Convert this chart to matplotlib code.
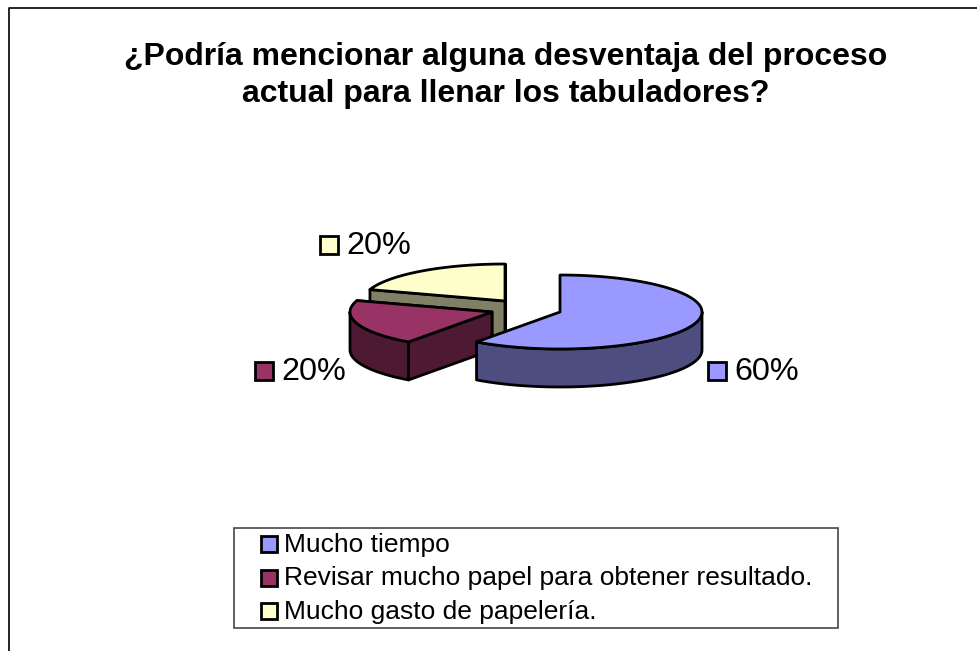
import numpy as np
import matplotlib
matplotlib.use("Agg")
import matplotlib.pyplot as plt
from matplotlib.patches import Polygon, Rectangle

# ---- data ----
categories = ["Mucho tiempo", "Revisar mucho papel para obtener resultado.", "Mucho gasto de papelería."]
values = [60, 20, 20]
pct_labels = ["60%", "20%", "20%"]
title_lines = ["¿Podría mencionar alguna desventaja del proceso", "actual para llenar los tabuladores?"]

# ---- style ----
top_colors = ["#9999FF", "#993366", "#FFFFCC"]
side_colors = ["#4D4D80", "#4D1933", "#808066"]
apexes = [(560, 312), (492, 312), (505, 301)]
RX, RY, DEPTH = 142, 37, 38
label_pos = [(707.5, 371), (254.5, 371), (320, 245)]
plt.rcParams["font.family"] = ["Liberation Sans", "DejaVu Sans"]

W, H = 977, 651
fig = plt.figure(figsize=(W / 100, H / 100), dpi=100)
ax = fig.add_axes([0, 0, 1, 1])
ax.set_xlim(0, W)
ax.set_ylim(H, 0)
ax.axis("off")

LW = 2.0
def pt(apex, a):
    return np.array([apex[0] + RX * np.sin(a), apex[1] - RY * np.cos(a)])

def arc(apex, a0, a1, n=80):
    t = np.linspace(a0, a1, n)
    return np.column_stack([apex[0] + RX * np.sin(t), apex[1] - RY * np.cos(t)])

fracs = np.array(values) / sum(values)
edges = np.concatenate([[0], np.cumsum(fracs)]) * 2 * np.pi

def draw_wedge(i, z):
    apex, a0, a1 = apexes[i], edges[i], edges[i + 1]
    down = np.array([0, DEPTH])
    ap = np.array(apex, float)
    kw = dict(facecolor=side_colors[i], edgecolor="black", lw=LW, joinstyle="round", zorder=z)
    # radial cut faces seen from the front
    for a in (a0, a1):
        p = pt(apex, a)
        if np.sin(a) < 0 and np.cos(a) > 0:
            ax.add_patch(Polygon([ap, p, p + down, ap + down], **kw))
    if np.pi < a0 < 1.5 * np.pi:
        p = pt(apex, a0)
        ax.add_patch(Polygon([ap, p, p + down, ap + down], **kw))
    # outer rim, front half only
    f0, f1 = max(a0, np.pi / 2), min(a1, 3 * np.pi / 2)
    if f1 > f0:
        rim = arc(apex, f0, f1)
        ax.add_patch(Polygon(np.vstack([rim, (rim + down)[::-1]]), **kw))
    top = np.vstack([ap, arc(apex, a0, a1)])
    ax.add_patch(Polygon(top, facecolor=top_colors[i], edgecolor="black", lw=LW, joinstyle="round", zorder=z + 0.5))

draw_wedge(2, 2)
draw_wedge(1, 3)
draw_wedge(0, 4)

# frame: open on the right and at the bottom
ax.plot([9, 9, W], [H, 7.5, 7.5], color="black", lw=1.2, zorder=1, clip_on=False)

# title
for y, t in zip([57, 94], title_lines):
    ax.text(505.5, y, t, ha="center", va="center", fontsize=23, fontweight="bold", color="black")

# data labels
def key(x, y, c, s=14, lw=LW):
    ax.add_patch(Rectangle((x, y - s / 2), s, s, facecolor=c, edgecolor="black", lw=lw, zorder=6))

for (x, y), c, t in zip(label_pos, top_colors, pct_labels):
    key(x, y, c, 18)
    ax.text(x + 26.5, y + 1.5, t, va="center", ha="left", fontsize=23.3, color="black", zorder=6)

# legend
ax.add_patch(Rectangle((233.5, 527.5), 604, 100, facecolor="white", edgecolor="#555555", lw=1.3, zorder=5))
for y, c, t in zip([544, 577.5, 611], top_colors, categories):
    key(261, y, c, 16)
    ax.text(284.5, y + 1, t, va="center", ha="left", fontsize=19, color="black", zorder=6)

fig.savefig("out.png", dpi=100)
